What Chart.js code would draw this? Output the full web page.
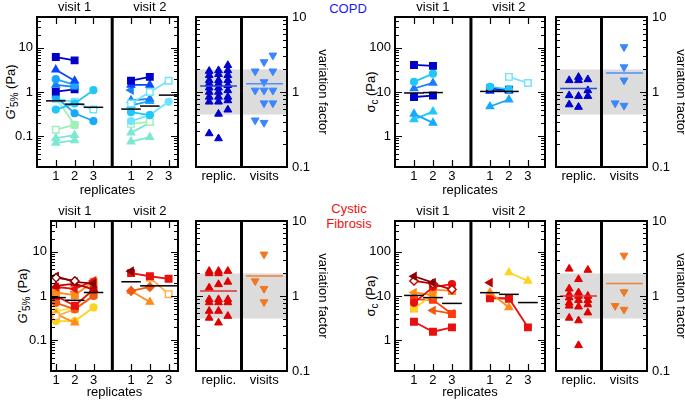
<!DOCTYPE html>
<html><head><meta charset="utf-8">
<script src="https://cdn.jsdelivr.net/npm/chart.js@4.4.0/dist/chart.umd.min.js"></script>
<style>
html,body{margin:0;padding:0;background:#fff;overflow:hidden;}
#wrap{position:relative;width:685px;height:400px;font-family:'Liberation Sans',Arial,sans-serif;color:#000;}
canvas{position:absolute;}
.lbl{position:absolute;font-size:13px;white-space:nowrap;line-height:1;}
.rot{transform:translate(-50%,-50%) rotate(-90deg);}
.ctr{transform:translate(-50%,-50%);}
sub{font-size:10px;vertical-align:-3px;line-height:0;}
</style></head><body><div id="wrap">
<div class="lbl rot" style="left:10px;top:92px;"><i>G'</i><sub>5%</sub> (Pa)</div>
<div class="lbl rot" style="left:370px;top:92px;">σ<sub>c</sub> (Pa)</div>
<div class="lbl rot" style="left:22px;top:296px;"><i>G'</i><sub>5%</sub> (Pa)</div>
<div class="lbl rot" style="left:370px;top:296px;">σ<sub>c</sub> (Pa)</div>
<div class="lbl ctr" style="left:348px;top:8px;color:#1a1aff;">COPD</div>
<div class="lbl ctr" style="left:349px;top:208px;color:#ee1111;">Cystic</div>
<div class="lbl ctr" style="left:349px;top:223px;color:#ee1111;">Fibrosis</div>
</div>
<script>
// ---------------- DATA ----------------
const replicates = [1, 2, 3];
const visitLabels = ['visit 1', 'visit 2'];
const varCategories = ['replic.', 'visits'];
const logTicksG = [0.1, 1, 10];
const logTicksS = [1, 10, 100];
const logTicksV = [0.1, 1, 10];

// COPD, G'5% (Pa), one row per subject, values at replicates 1,2,3
const copdG_v1 = [[6.2,5.2,null],[3.2,1.8,null],[1.95,1.45,null],[1.45,1.3,null],[1.02,1.15,null],[0.78,0.33,0.22],[0.4,0.55,1.1],[0.7,0.6,0.4],[0.75,0.18,null],[0.14,0.18,null],[0.09,0.105,null],[0.07,0.08,null]];
const copdG_v1_med = [0.63, 0.53, 0.45];
const copdG_v2 = [[1.8,2.2,null],[1.45,1.45,null],[1.1,null,null],[0.55,1.0,1.8],[0.65,0.7,null],[0.5,0.62,null],[0.35,0.3,null],[0.22,0.3,0.6],[0.19,0.21,null],[0.12,0.2,null],[0.075,0.095,null]];
const copdG_v2_med = [0.41, 0.48, 0.85];
// COPD, sigma_c (Pa)
const copdS_v1 = [[41,39,null],[17,26,null],[12,16,null],[7.7,8.3,null],[3.2,2.0,null],[2.4,3.6,null]];
const copdS_v1_med = [9.5, 9.7, null];
const copdS_v2 = [[13,11.5,null],[12,11.3,null],[10.5,10.8,null],[4.7,6.7,null],[null,22,16]];
const copdS_v2_med = [10.3, 10.3, null];
// Cystic fibrosis, G'5% (Pa)
const cfG_v1 = [[2.6,2.2,null],[2.8,2.1,1.9],[1.7,1.9,1.4],[1.6,1.45,2.2],[1.2,1.05,2.1],[1.0,0.6,1.4],[null,1.1,null],[0.7,0.5,1.0],[0.35,0.5,1.05],[0.39,0.25,null],[0.27,0.27,0.55],[0.45,0.55,null]];
const cfG_v1_med = [0.92, 0.8, 1.2];
const cfG_v2 = [[3.65,null,null],[3.3,2.8,2.45],[null,2.6,1.1],[1.3,1.6,null],[1.3,0.73,null]];
const cfG_v2_med = [2.1, 1.7, 1.7];
// Cystic fibrosis, sigma_c (Pa)
const cfS_v1 = [[28,20,null],[22,19,14],[7,16,18.5],[12,10.5,null],[null,14,13],[5.3,10.5,null],[8.4,8.2,3.9],[null,4.7,4.0],[2.6,1.55,1.95],[5.2,null,null]];
const cfS_v1_med = [10.3, 9.2, 6.8];
const cfS_v2 = [[20,null,null],[null,34,22],[12,5.5,null],[8.9,8.9,1.95],[9.2,8.5,null]];
const cfS_v2_med = [11.9, 10.9, 7.1];

// variation factors, grouped in jitter columns
const copdG_replic = [[1.9,1.67,1.43,1.29,1.14,1.0,0.86,0.74,0.28],[1.94,1.72,1.43,1.29,1.14,1.0,0.86,0.74,0.51,0.24],[2.27,1.94,1.67,1.43,1.23,1.05,0.86,0.77,0.58]];
const copdG_replic_med = 1.2;
const copdG_visits = [[1.89,1.05,0.42],[2.51,1.36,1.05,0.71,0.39],[3.08,1.89,1.05,0.71]];
const copdG_visits_med = 1.29;
const copdS_replic = [[1.43,0.9,0.68],[1.58,1.43,0.88,0.63],[1.47,1.05,0.88]];
const copdS_replic_med = 1.11;
const copdS_visits = [[0.71],[3.98,2.15,1.43,0.66]];
const copdS_visits_med = 1.79;
const cfG_replic = [[2.15,2.0,1.29,0.9,0.82,0.63,0.51],[2.15,2.0,1.43,0.9,0.82,0.63,0.44],[2.15,1.54,0.9,0.82,0.54]];
const cfG_replic_med = 1.17;
const cfG_visits = [[1.58],[3.59,1.25,0.83]];
const cfG_visits_med = 1.85;
const cfS_replic = [[2.3,1.25,1.05,0.95,0.81,0.74,0.51],[1.67,1.11,1.0,0.88,0.72,0.47,0.22],[2.22,1.0,0.88,0.77,0.6]];
const cfS_replic_med = 1.0;
const cfS_visits = [[0.74],[3.48,1.13,0.66]];
const cfS_visits_med = 1.47;
const varBand = [0.5, 2];

// ---------------- STYLES ----------------
const BLUES = ['#0000c8','#0a46ff','#1a7cff','#18a8ff','#20c8f8','#70e4ff','#7ce8d4','#a0f0b8'];
const REDS = ['#8b0000','#c00000','#e81010','#ff3a10','#f05a10','#ff8c1a','#ffb040','#ffd21e','#ffe14d'];
const copdG_v1_col = [0,1,3,2,0,3,4,5,7,7,6,6], copdG_v1_mk = ['s','t','c','t','s','c','c','o','c','o','t','t'];
const copdG_v2_col = [0,1,2,5,2,3,4,5,7,6,6], copdG_v2_mk = ['s','t','l','o','t','t','c','c','o','t','t'];
const copdS_v1_col = [0,4,2,0,3,4], copdS_v1_mk = ['s','c','t','s','t','t'];
const copdS_v2_col = [4,0,1,3,5], copdS_v2_mk = ['c','s','t','t','o'];
const cfG_v1_col = [0,0,1,2,5,2,0,4,6,5,7,8], cfG_v1_mk = ['D','l','t','l','s','s','v','c','o','t','c','c'];
const cfG_v2_col = [0,2,6,4,5], cfG_v2_mk = ['l','s','o','d','t'];
const cfS_v1_col = [0,1,2,5,5,7,3,4,2,6], cfS_v1_mk = ['l','D','c','l','s','c','s','l','s','s'];
const cfS_v2_col = [1,7,5,2,4], cfS_v2_mk = ['l','t','t','s','s'];

const MARK = {
  s:{style:'rect', r:4.6, open:false, rot:0},
  o:{style:'rect', r:4.6, open:true, rot:0},
  t:{style:'triangle', r:4.2, open:false, rot:0},
  c:{style:'circle', r:3.4, open:false, rot:0},
  l:{style:'triangle', r:4.2, open:false, rot:-90},
  r:{style:'triangle', r:4.2, open:false, rot:90},
  v:{style:'triangle', r:4.2, open:false, rot:180},
  d:{style:'rectRot', r:4.2, open:false, rot:0},
  D:{style:'rectRot', r:4.2, open:true, rot:0}
};
const VISIT_SHIFT = [0, 4];

Chart.defaults.font.family = "'Liberation Sans', Arial, sans-serif";
Chart.defaults.font.size = 13;
Chart.defaults.color = '#000';

const framePlugin = {
  id: 'frame',
  beforeDatasetsDraw(chart, args, o) {
    const {ctx, chartArea: a, scales: {y}} = chart;
    if (o.band) {
      const y1 = y.getPixelForValue(o.band[1]), y0 = y.getPixelForValue(o.band[0]);
      ctx.save(); ctx.fillStyle = '#dcdcdc'; ctx.fillRect(a.left, y1, a.right - a.left, y0 - y1); ctx.restore();
    }
  },
  afterDraw(chart, args, o) {
    const {ctx, chartArea: a, scales: {x, y}} = chart;
    ctx.save();
    ctx.strokeStyle = '#000';
    ctx.lineWidth = 1.2;
    ctx.beginPath();
    const lo = Math.floor(Math.log10(y.min)), hi = Math.ceil(Math.log10(y.max));
    for (let k = lo; k <= hi; k++) for (let m = 1; m <= 9; m++) {
      const v = m * Math.pow(10, k);
      if (v < y.min * 0.999 || v > y.max * 1.001) continue;
      const py = Math.round(y.getPixelForValue(v)) + 0.5;
      const len = m === 1 ? 7 : 4;
      ctx.moveTo(a.left, py); ctx.lineTo(a.left + len, py);
      ctx.moveTo(a.right, py); ctx.lineTo(a.right - len, py);
    }
    (o.xticks || []).forEach(v => {
      const px = Math.round(x.getPixelForValue(v)) + 0.5;
      ctx.moveTo(px, a.top); ctx.lineTo(px, a.top + 7);
      ctx.moveTo(px, a.bottom); ctx.lineTo(px, a.bottom - 7);
    });
    ctx.stroke();
    if (o.divider != null) {
      const px = x.getPixelForValue(o.divider);
      ctx.lineWidth = 3; ctx.beginPath(); ctx.moveTo(px, a.top); ctx.lineTo(px, a.bottom); ctx.stroke();
    }
    ctx.lineWidth = 2;
    ctx.strokeRect(a.left, a.top, a.right - a.left, a.bottom - a.top);
    ctx.fillStyle = '#000';
    ctx.font = "13px 'Liberation Sans', Arial, sans-serif";
    ctx.textAlign = 'center'; ctx.textBaseline = 'middle';
    (o.headers || []).forEach(h => ctx.fillText(h.text, x.getPixelForValue(h.at), a.top - 10));
    ctx.restore();
  }
};

function makeCanvas(left, top, w, h) {
  const c = document.createElement('canvas');
  c.width = w; c.height = h;
  c.style.left = left + 'px'; c.style.top = top + 'px';
  c.style.width = w + 'px'; c.style.height = h + 'px';
  document.getElementById('wrap').appendChild(c);
  return c;
}

function seriesSets(vals, cols, mks, pal, visit) {
  return vals.map((row, i) => {
    const pts = [];
    row.forEach((v, r) => { if (v != null) pts.push({x: replicates[r] + VISIT_SHIFT[visit], y: v}); });
    const c = pal[cols[i]], m = MARK[mks[i]];
    return {data: pts, showLine: true, borderColor: c, borderWidth: 1.8,
      pointStyle: m.style, pointRotation: m.rot, pointRadius: m.r,
      pointBackgroundColor: m.open ? '#fff' : c, pointBorderColor: c, pointBorderWidth: 1.4};
  });
}
function medianSets(meds, visit, color, half) {
  const out = [];
  meds.forEach((m, r) => {
    if (m == null) return;
    const xc = replicates[r] + VISIT_SHIFT[visit];
    out.push({data: [{x: xc - half, y: m}, {x: xc + half, y: m}], showLine: true,
      borderColor: color, borderWidth: 1.5, pointRadius: 0, order: -1});
  });
  return out;
}

const ROWS = [{top: 0, h: 200, pad: 17, xh: 33, tpb: 2}, {top: 204, h: 196, pad: 17, xh: 29, tpb: 0}];

function replicatePanel(row, left, w, yw, xmin, xmax, ymin, ymax, yticks, v1, v1c, v1m, v1med, v2, v2c, v2m, v2med, pal) {
  const R = ROWS[row];
  const datasets = [].concat(
    medianSets(v1med, 0, '#000', 0.52), medianSets(v2med, 1, '#000', 0.52),
    seriesSets(v1, v1c, v1m, pal, 0), seriesSets(v2, v2c, v2m, pal, 1));
  const xt = [];
  [0, 1].forEach(vi => replicates.forEach(r => xt.push(r + VISIT_SHIFT[vi])));
  new Chart(makeCanvas(left, R.top, w, R.h), {
    type: 'scatter',
    data: {datasets},
    options: {
      responsive: false, animation: false, events: [], devicePixelRatio: 1,
      layout: {padding: {top: R.pad, right: 7, left: 0, bottom: 0}},
      plugins: {legend: {display: false}, tooltip: {enabled: false},
        frame: {xticks: xt, divider: 4, headers: [{text: visitLabels[0], at: 2}, {text: visitLabels[1], at: 6}]}},
      scales: {
        x: {type: 'linear', min: xmin, max: xmax,
          afterBuildTicks: s => { s.ticks = xt.map(v => ({value: v})); },
          afterFit: s => { s.height = R.xh; },
          ticks: {autoSkip: false, maxRotation: 0, padding: 2, callback: v => String(v > 4 ? v - 4 : v)},
          grid: {display: false, drawTicks: false}, border: {display: false},
          title: {display: true, text: 'replicates', padding: {top: 0, bottom: R.tpb}}},
        y: {type: 'logarithmic', min: ymin, max: ymax,
          afterBuildTicks: s => { s.ticks = yticks.map(v => ({value: v})); },
          afterFit: s => { s.width = yw; },
          ticks: {autoSkip: false, padding: 4, callback: v => String(v)},
          grid: {display: false, drawTicks: false}, border: {display: false}}
      }
    },
    plugins: [framePlugin]
  });
}

function variationPanel(row, left, w, aw, tpad, replic, replicMed, visits, visitsMed, cRep, cVis, cRepMed, cVisMed) {
  const R = ROWS[row];
  const datasets = [];
  datasets.push({data: [{x: 0.09, y: replicMed}, {x: 0.9, y: replicMed}], showLine: true, borderColor: cRepMed, borderWidth: 1.5, pointRadius: 0, order: -1});
  datasets.push({data: [{x: 1.1, y: visitsMed}, {x: 1.91, y: visitsMed}], showLine: true, borderColor: cVisMed, borderWidth: 1.5, pointRadius: 0, order: -1});
  replic.forEach((col, ci) => datasets.push({data: col.map(v => ({x: 0.29 + 0.205 * ci, y: v})),
    pointStyle: 'triangle', pointRadius: 4.5, pointBackgroundColor: cRep, pointBorderColor: cRep, pointBorderWidth: 1}));
  visits.forEach((col, ci) => datasets.push({data: col.map(v => ({x: 1.3 + 0.195 * ci, y: v})),
    pointStyle: 'triangle', pointRotation: 180, pointRadius: 4.5, pointBackgroundColor: cVis, pointBorderColor: cVis, pointBorderWidth: 1}));
  new Chart(makeCanvas(left, R.top, w, R.h), {
    type: 'scatter',
    data: {datasets},
    options: {
      responsive: false, animation: false, events: [], devicePixelRatio: 1,
      layout: {padding: {top: R.pad, right: 0, left: 8, bottom: 0}},
      plugins: {legend: {display: false}, tooltip: {enabled: false},
        frame: {band: varBand, divider: 1}},
      scales: {
        x: {type: 'linear', min: 0, max: 2,
          afterBuildTicks: s => { s.ticks = [0.5, 1.5].map(v => ({value: v})); },
          afterFit: s => { s.height = R.xh; },
          ticks: {autoSkip: false, maxRotation: 0, padding: 2, callback: (v, i) => varCategories[i]},
          grid: {display: false, drawTicks: false}, border: {display: false}},
        y: {type: 'logarithmic', position: 'right', min: 0.1, max: 10,
          afterBuildTicks: s => { s.ticks = logTicksV.map(v => ({value: v})); },
          afterFit: s => { s.width = aw; },
          ticks: {autoSkip: false, padding: 5, callback: v => String(v)},
          grid: {display: false, drawTicks: false}, border: {display: false},
          title: {display: true, text: 'variation factor', padding: {top: tpad, bottom: 0}}}
      }
    },
    plugins: [framePlugin]
  });
}

// top row: COPD
replicatePanel(0, 0, 185, 37, 0, 7.5, 0.02, 50, logTicksG, copdG_v1, copdG_v1_col, copdG_v1_mk, copdG_v1_med, copdG_v2, copdG_v2_col, copdG_v2_mk, copdG_v2_med, BLUES);
variationPanel(0, 188, 150, 51, 8, copdG_replic, copdG_replic_med, copdG_visits, copdG_visits_med, '#0000cc', '#3a86ff', '#2a4bd7', '#4a90ff');
replicatePanel(0, 340, 212, 55, 0, 7.9, 0.2, 500, logTicksS, copdS_v1, copdS_v1_col, copdS_v1_mk, copdS_v1_med, copdS_v2, copdS_v2_col, copdS_v2_mk, copdS_v2_med, BLUES);
variationPanel(0, 548, 142, 43, 2, copdS_replic, copdS_replic_med, copdS_visits, copdS_visits_med, '#0000cc', '#3a86ff', '#2a4bd7', '#4a90ff');
// bottom row: cystic fibrosis
replicatePanel(1, 0, 185, 51, 0.73, 7.5, 0.02, 50, logTicksG, cfG_v1, cfG_v1_col, cfG_v1_mk, cfG_v1_med, cfG_v2, cfG_v2_col, cfG_v2_mk, cfG_v2_med, REDS);
variationPanel(1, 188, 150, 51, 8, cfG_replic, cfG_replic_med, cfG_visits, cfG_visits_med, '#e00000', '#f07820', '#e03030', '#f08030');
replicatePanel(1, 340, 212, 55, 0, 7.9, 0.2, 500, logTicksS, cfS_v1, cfS_v1_col, cfS_v1_mk, cfS_v1_med, cfS_v2, cfS_v2_col, cfS_v2_mk, cfS_v2_med, REDS);
variationPanel(1, 548, 142, 43, 2, cfS_replic, cfS_replic_med, cfS_visits, cfS_visits_med, '#e00000', '#f07820', '#e03030', '#f08030');
</script></body></html>
